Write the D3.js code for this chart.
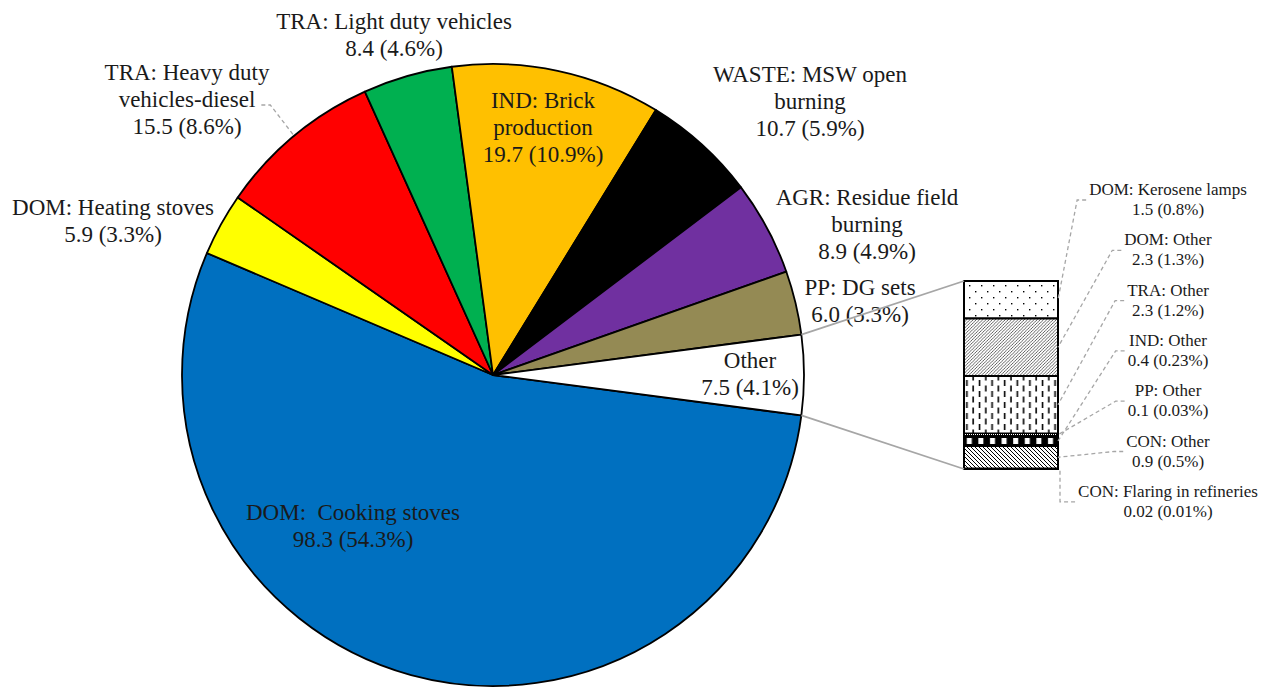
<!DOCTYPE html>
<html>
<head>
<meta charset="utf-8">
<script src="https://cdn.jsdelivr.net/npm/d3@7"></script>
<style>
  html, body { margin: 0; padding: 0; background: #ffffff; }
  svg { display: block; }
  text { font-family: "Liberation Serif", "Times New Roman", serif; fill: #1a1a1a; }
</style>
</head>
<body>
<svg id="chart" width="1264" height="687"></svg>
<script>
// ---- Main pie: emission sources (value, share) ----
const sectors = [
  "DOM:  Cooking stoves",
  "DOM: Heating stoves",
  "TRA: Heavy duty\nvehicles-diesel",
  "TRA: Light duty vehicles",
  "IND: Brick\nproduction",
  "WASTE: MSW open\nburning",
  "AGR: Residue field\nburning",
  "PP: DG sets",
  "Other"
];
const sectorValues = [98.3, 5.9, 15.5, 8.4, 19.7, 10.7, 8.9, 6.0, 7.5];
const sectorColors = ["#0070C0", "#FFFF00", "#FF0000", "#00B050", "#FFC000",
                      "#000000", "#7030A0", "#948A54", "#FFFFFF"];

// ---- Breakdown of the "Other" slice ----
const otherItems = [
  "DOM: Kerosene lamps",
  "DOM: Other",
  "TRA: Other",
  "IND: Other",
  "PP: Other",
  "CON: Other",
  "CON: Flaring in refineries"
];
const otherValues = [1.5, 2.3, 2.3, 0.4, 0.1, 0.9, 0.02];
const otherPercents = ["0.8%", "1.3%", "1.2%", "0.23%", "0.03%", "0.5%", "0.01%"];
// top-to-bottom order of the segments inside the stacked bar
const otherStackOrder = [0, 1, 2, 4, 3, 5, 6];

// ---- Layout ----
const W = 1264, H = 687;
const cx = 493, cy = 375, R = 311;
const bar = { x0: 964, x1: 1058, y0: 281, y1: 469 };
const lineH = 27;
// label anchor (centre x, first baseline) for each pie slice
const sliceLabelAt = [
  [353, 520], [113, 215], [187, 80], [394, 29], [543, 108],
  [810, 82], [867, 205], [860, 295], [750, 368]
];
const barLabelX = 1168, barLabelTop = 195, barLabelStep = 50.3, barLineH = 20;

const svg = d3.select("#chart");
const defs = svg.append("defs");

// ---- Fill patterns for the bar segments ----
function pat(id, w, h) {
  const p = defs.append("pattern").attr("id", id)
    .attr("patternUnits", "userSpaceOnUse").attr("width", w).attr("height", h);
  p.append("rect").attr("width", w).attr("height", h).attr("fill", "#fff");
  return p;
}
// sparse dots
{
  const p = pat("p-dots", 12, 12);
  [[3, 3], [9, 9]].forEach(([x, y]) =>
    p.append("rect").attr("x", x).attr("y", y).attr("width", 1.4).attr("height", 1.4).attr("fill", "#000"));
}
// forward diagonal (fine)
{
  const p = pat("p-fdiag", 3.2, 3.2);
  p.append("path").attr("d", "M-0.8,0.8 L0.8,-0.8 M0,3.2 L3.2,0 M2.4,4 L4,2.4")
    .attr("stroke", "#222").attr("stroke-width", 0.7);
}
// vertical dashes, staggered columns
{
  const p = pat("p-vdash", 12.6, 11);
  const dash = (x, y1, y2) => p.append("line").attr("x1", x).attr("x2", x)
    .attr("y1", y1).attr("y2", y2).attr("stroke", "#000").attr("stroke-width", 1.6);
  dash(3, 0.5, 6.5);
  dash(9.3, 6, 12);
  dash(9.3, -5, 1);
}
// fine grey dots
{
  const p = pat("p-fine", 2, 2);
  p.append("rect").attr("width", 1).attr("height", 1).attr("fill", "#000");
}
// black band with white blocks
{
  const p = pat("p-block", 11.6, 10);
  p.select("rect").attr("fill", "#000");
  p.append("rect").attr("x", 4).attr("y", 2).attr("width", 5).attr("height", 6).attr("fill", "#fff");
}
// backward diagonal
{
  const p = pat("p-bdiag", 4, 4);
  p.append("path").attr("d", "M-1,3 L1,5 M0,0 L4,4 M3,-1 L5,1")
    .attr("stroke", "#000").attr("stroke-width", 1);
}
const otherPatterns = ["p-dots", "p-fdiag", "p-vdash", "p-block", "p-fine", "p-bdiag", "p-fine"];

// ---- Pie ----
const total = d3.sum(sectorValues);
const otherIdx = sectors.indexOf("Other");
const otherSpan = sectorValues[otherIdx] / total * 2 * Math.PI;
// "Other" slice is centred on the 3 o'clock direction
const start = Math.PI / 2 + otherSpan / 2;
const pie = d3.pie().sort(null).value(d => d)
  .startAngle(start).endAngle(start + 2 * Math.PI);
const arcs = pie(sectorValues);
const arc = d3.arc().innerRadius(0).outerRadius(R);

const g = svg.append("g").attr("transform", `translate(${cx},${cy})`);
g.selectAll("path.slice").data(arcs).join("path")
  .attr("class", "slice")
  .attr("d", arc)
  .attr("fill", (d, i) => sectorColors[i])
  .attr("stroke", "#000")
  .attr("stroke-width", 1.8)
  .attr("stroke-linejoin", "round");

const polar = (a, r) => [cx + r * Math.sin(a), cy - r * Math.cos(a)];

// ---- Slice labels ----
const pctFmt = d3.format(".1f");
const labels = svg.append("g").attr("font-size", 23);
const labelNodes = [];
sectors.forEach((name, i) => {
  const lines = name.split("\n");
  lines.push(`${pctFmt(sectorValues[i])} (${pctFmt(sectorValues[i] / total * 100)}%)`);
  const [x, y] = sliceLabelAt[i];
  const t = labels.append("text").attr("text-anchor", "middle").attr("xml:space", "preserve");
  lines.forEach((ln, k) => t.append("tspan").attr("x", x).attr("y", y + k * lineH).text(ln));
  labelNodes.push(t);
});

// leader for the heavy-duty label (ends on the slice's outer edge)
{
  const i = sectors.findIndex(s => s.startsWith("TRA: Heavy"));
  const tsp = labelNodes[i].selectAll("tspan").nodes()[1];
  const bb = tsp.getBBox();
  const y = sliceLabelAt[i][1] + lineH - 2;
  const a = (arcs[i].startAngle + arcs[i].endAngle) / 2;
  const end = polar(a, R);
  svg.append("path")
    .attr("d", d3.line()([[bb.x + bb.width + 6, y], [bb.x + bb.width + 15, y], end]))
    .attr("fill", "none").attr("stroke", "#A6A6A6").attr("stroke-width", 1.3)
    .attr("stroke-dasharray", "4,3");
}

// ---- Stacked bar for the "Other" breakdown ----
const barTotal = d3.sum(otherValues);
const yBar = d3.scaleLinear().domain([0, barTotal]).range([bar.y0, bar.y1]);
const segs = [];
let acc = 0;
otherStackOrder.forEach(i => {
  segs[i] = { i, top: acc, bottom: acc + otherValues[i] };
  acc += otherValues[i];
});
const barG = svg.append("g");
barG.selectAll("rect").data(otherStackOrder.map(i => segs[i])).join("rect")
  .attr("x", bar.x0)
  .attr("y", d => yBar(d.top))
  .attr("width", bar.x1 - bar.x0)
  .attr("height", d => yBar(d.bottom) - yBar(d.top))
  .attr("fill", d => `url(#${otherPatterns[d.i]})`)
  .attr("stroke", "#000")
  .attr("stroke-width", d => (yBar(d.bottom) - yBar(d.top)) > 3 ? 2 : 1);
// align the block pattern with its segment
defs.select("#p-block").attr("y", yBar(segs[3].top));
barG.append("rect")
  .attr("x", bar.x0).attr("y", bar.y0)
  .attr("width", bar.x1 - bar.x0).attr("height", bar.y1 - bar.y0)
  .attr("fill", "none").attr("stroke", "#000").attr("stroke-width", 2);

// ---- Bar labels with dashed leaders ----
const valFmt = v => (v < 0.1 ? d3.format(".2f")(v) : d3.format(".1f")(v));
const barLabels = svg.append("g").attr("font-size", 17);
const leaders = svg.append("g");
otherItems.forEach((name, i) => {
  const y = barLabelTop + i * barLabelStep;
  const t = barLabels.append("text").attr("text-anchor", "middle");
  t.append("tspan").attr("x", barLabelX).attr("y", y).text(name);
  t.append("tspan").attr("x", barLabelX).attr("y", y + barLineH)
    .text(`${valFmt(otherValues[i])} (${otherPercents[i]})`);
  const bb = t.node().getBBox();
  const ly = y + 5;
  const segMid = yBar((segs[i].top + segs[i].bottom) / 2);
  const pts = i === otherItems.length - 1
    ? [[bb.x - 3, ly], [bar.x1 + 2, ly], [bar.x1 + 2, yBar(segs[i].bottom)]]
    : [[bb.x - 3, ly], [bb.x - 12, ly], [bar.x1, segMid]];
  leaders.append("path").attr("d", d3.line()(pts))
    .attr("fill", "none").attr("stroke", "#A6A6A6").attr("stroke-width", 1.3)
    .attr("stroke-dasharray", "4,3");
});

// ---- Connector lines from the "Other" slice to the bar ----
{
  const o = arcs[otherIdx];
  const p1 = polar(o.startAngle, R), p2 = polar(o.endAngle, R);
  svg.append("g").attr("stroke", "#A6A6A6").attr("stroke-width", 1.8)
    .selectAll("line").data([[p1, [bar.x0, bar.y0]], [p2, [bar.x0, bar.y1]]]).join("line")
    .attr("x1", d => d[0][0]).attr("y1", d => d[0][1])
    .attr("x2", d => d[1][0]).attr("y2", d => d[1][1]);
}
</script>
</body>
</html>
